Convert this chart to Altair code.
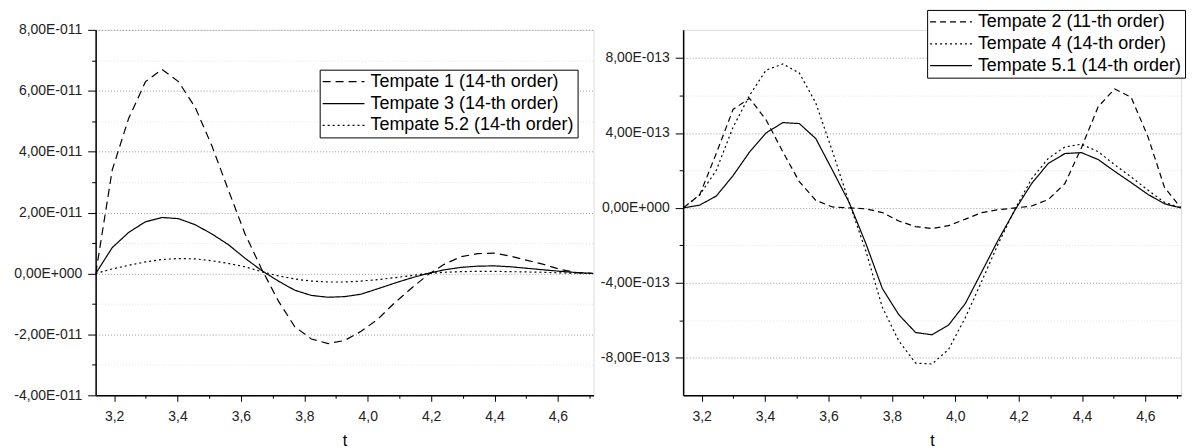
import json
import altair as alt
import pandas as pd

FONT = "Liberation Sans"

# sample positions (t)
t = [3.142, 3.194, 3.246, 3.299, 3.351, 3.403, 3.456, 3.508, 3.560, 3.613,
     3.665, 3.718, 3.770, 3.822, 3.875, 3.927, 3.979, 4.032, 4.084, 4.136,
     4.189, 4.241, 4.294, 4.346, 4.398, 4.451, 4.503, 4.555, 4.608, 4.660, 4.712]

# ---- left panel (values in units of 1E-11) ----
left_names = ["Tempate 1 (14-th order)", "Tempate 3 (14-th order)", "Tempate 5.2 (14-th order)"]
tempate1 = [0, 3.4, 5.1, 6.3, 6.7, 6.3, 5.45, 4.2, 2.75, 1.3, 0.15, -0.9, -1.75, -2.15, -2.3,
            -2.2, -1.9, -1.5, -0.97, -0.5, -0.05, 0.3, 0.55, 0.65, 0.67, 0.57, 0.43, 0.3, 0.13, 0.03, 0]
tempate3 = [0, 0.85, 1.35, 1.7, 1.84, 1.8, 1.6, 1.3, 0.95, 0.5, 0.1, -0.25, -0.55, -0.72, -0.78,
            -0.76, -0.68, -0.5, -0.32, -0.15, 0.0, 0.12, 0.2, 0.24, 0.25, 0.22, 0.17, 0.12, 0.07, 0.03, 0]
tempate52 = [0, 0.15, 0.27, 0.38, 0.46, 0.49, 0.48, 0.42, 0.33, 0.22, 0.06, -0.08, -0.18, -0.25, -0.28,
             -0.28, -0.25, -0.2, -0.14, -0.07, 0.0, 0.04, 0.06, 0.07, 0.07, 0.06, 0.05, 0.04, 0.02, 0.01, 0]
left_unit = 1e-11

# ---- right panel (values in units of 1E-13) ----
right_names = ["Tempate 2 (11-th order)", "Tempate 4 (14-th order)", "Tempate 5.1 (14-th order)"]
tempate2 = [0, 0.7, 2.9, 5.25, 5.85, 4.7, 3.0, 1.4, 0.4, 0.05, 0.0, -0.05, -0.25, -0.7, -1.0,
            -1.1, -0.95, -0.6, -0.25, -0.1, 0.0, 0.1, 0.45, 1.3, 3.2, 5.4, 6.35, 5.9, 3.8, 1.1, 0]
tempate4 = [0, 0.7, 2.0, 4.3, 6.0, 7.35, 7.68, 7.2, 5.6, 3.0, 0.3, -2.3, -5.3, -7.1, -8.28,
            -8.33, -7.55, -5.85, -3.9, -1.9, -0.05, 1.55, 2.65, 3.25, 3.4, 3.0, 2.3, 1.65, 0.95, 0.3, 0]
tempate51 = [0, 0.15, 0.63, 1.72, 2.98, 4.0, 4.55, 4.5, 3.7, 2.0, 0.3, -1.9, -4.3, -5.7, -6.65,
             -6.77, -6.25, -5.1, -3.4, -1.7, -0.1, 1.3, 2.38, 2.9, 2.95, 2.58, 1.95, 1.35, 0.72, 0.22, 0]
right_unit = 1e-13

# ---- ticks ----
x_major = [3.2, 3.4, 3.6, 3.8, 4.0, 4.2, 4.4, 4.6]
x_labels = ["3,2", "3,4", "3,6", "3,8", "4,0", "4,2", "4,4", "4,6"]
x_minor = [3.3, 3.5, 3.7, 3.9, 4.1, 4.3, 4.5, 4.7]

left_y_major = [-4e-11, -2e-11, 0, 2e-11, 4e-11, 6e-11, 8e-11]
left_y_labels = ["-4,00E-011", "-2,00E-011", "0,00E+000", "2,00E-011", "4,00E-011", "6,00E-011", "8,00E-011"]
left_y_minor = [-3e-11, -1e-11, 1e-11, 3e-11, 5e-11, 7e-11]

right_y_major = [-8e-13, -4e-13, 0, 4e-13, 8e-13]
right_y_labels = ["-8,00E-013", "-4,00E-013", "0,00E+000", "4,00E-013", "8,00E-013"]
right_y_minor = [-6e-13, -2e-13, 2e-13, 6e-13]


def long_df(names, series, unit):
    rows = []
    for name, vals in zip(names, series):
        for tt, v in zip(t, vals):
            rows.append({"t": tt, "v": v * unit, "series": name})
    return pd.DataFrame(rows)


df_left = long_df(left_names, [tempate1, tempate3, tempate52], left_unit)
df_right = long_df(right_names, [tempate2, tempate4, tempate51], right_unit)


def make_axis(majors, labels, minors, major_tick, minor_tick, grid, label_padding, title=None):
    test = f"indexof({json.dumps(majors)}, datum.value) >= 0"
    kw = dict(
        values=sorted(majors + minors),
        labelExpr=f"{test} ? {json.dumps(labels)}[indexof({json.dumps(majors)}, datum.value)] : ''",
        labelOverlap=False,
        labelFlush=False,
        tickSize={"condition": {"test": test, "value": major_tick}, "value": minor_tick},
        tickColor="black",
        tickWidth=1,
        domainColor="black",
        domainWidth=1.5,
        labelFont=FONT,
        labelFontSize=14,
        labelColor="#222222",
        labelPadding=label_padding,
        grid=grid,
    )
    if grid:
        kw["gridDash"] = [1, 2]
        kw["gridColor"] = {"condition": {"test": test, "value": "#9a9a9a"}, "value": "#e2e2e2"}
        kw["gridWidth"] = 1
    if title is not None:
        kw.update(title=title, titleFont=FONT, titleFontSize=16, titleFontWeight="normal",
                  titleColor="black", titlePadding=9)
    else:
        kw["title"] = None
    return alt.Axis(**kw)


def make_legend(lx, ly):
    return alt.Legend(
        title=None, orient="none", legendX=lx, legendY=ly,
        symbolType="M-10,0H10", symbolSize=17.64, symbolStrokeWidth=1.2,
        symbolStrokeColor="black", symbolOffset=12, labelOffset=18,
        labelFont=FONT, labelFontSize=18, labelColor="black", labelLimit=400,
        strokeColor="black", fillColor="white", padding=3, rowPadding=4, cornerRadius=0,
    )


x_axis = make_axis(x_major, x_labels, x_minor, 6, 3, False, 8, title="t")
x_scale = alt.Scale(domain=[3.1416, 4.7124], nice=False, zero=False)

left = alt.Chart(df_left).mark_line(color="black", strokeWidth=1.2, clip=True).encode(
    x=alt.X("t:Q", scale=x_scale, axis=x_axis),
    y=alt.Y("v:Q", scale=alt.Scale(domain=[-4e-11, 8e-11], nice=False, zero=False),
            axis=make_axis(left_y_major, left_y_labels, left_y_minor, 8, 4, True, 6)),
    strokeDash=alt.StrokeDash("series:N",
                              scale=alt.Scale(domain=left_names, range=[[8, 5], [1, 0], [2, 3]]),
                              legend=make_legend(225, 40)),
).properties(width=500, height=367)

right = alt.Chart(df_right).mark_line(color="black", strokeWidth=1.2, clip=True).encode(
    x=alt.X("t:Q", scale=x_scale, axis=x_axis),
    y=alt.Y("v:Q", scale=alt.Scale(domain=[-1e-12, 9.5e-13], nice=False, zero=False),
            axis=make_axis(right_y_major, right_y_labels, right_y_minor, 8, 4, True, 6)),
    strokeDash=alt.StrokeDash("series:N",
                              scale=alt.Scale(domain=right_names, range=[[6, 4], [2, 3], [1, 0]]),
                              legend=make_legend(245, -20)),
).properties(width=500, height=367)

chart = alt.hconcat(
    left, right, spacing=90, bounds="flush",
    padding={"left": 5, "top": 0, "right": 5, "bottom": 5},
).resolve_scale(strokeDash="independent").configure_view(stroke=None).configure(background="white")

chart.save("out.html", embed_options={"renderer": "svg", "actions": False})
